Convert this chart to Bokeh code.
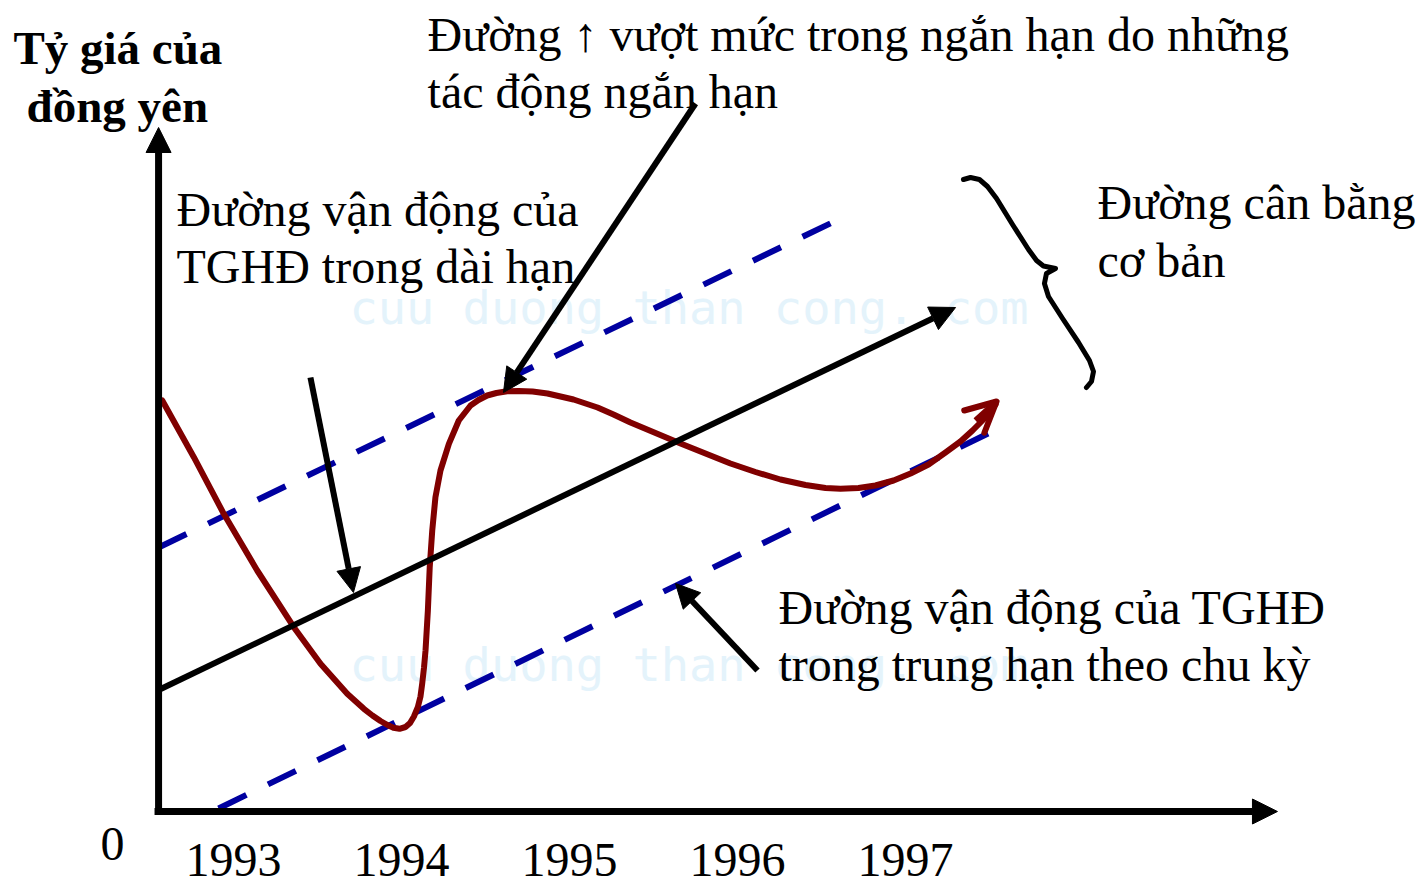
from bokeh.plotting import figure
from bokeh.models import Range1d, Arrow, NormalHead, OpenHead
from bokeh.core.properties import value
from bokeh.embed import file_html
from bokeh.resources import INLINE

# ---------------- data (x in years, y in relative exchange-rate units) -------------
years = [1993, 1994, 1995, 1996, 1997]
year_labels = ["1993", "1994", "1995", "1996", "1997"]

# long-run trend (fundamental equilibrium)
trend_x = [1992.548, 1997.298]
trend_y = [1.18, 5.01]

# band around trend (dashed)
upper_x = [1992.554, 1996.613]
upper_y = [2.61, 5.90]
lower_x = [1992.911, 1997.565]
lower_y = [0.00, 3.81]

# actual exchange-rate path
rate_x = [1992.576, 1992.764, 1992.942, 1993.141, 1993.359, 1993.518, 1993.677, 1993.776,
          1993.827, 1993.875, 1993.917, 1993.952, 1993.988, 1994.024, 1994.051, 1994.074,
          1994.097, 1994.113, 1994.123, 1994.134, 1994.143, 1994.157, 1994.168, 1994.183,
          1994.202, 1994.232, 1994.282, 1994.341, 1994.411, 1994.458, 1994.510, 1994.565,
          1994.629, 1994.696, 1994.780, 1994.869, 1995.024, 1995.167, 1995.262, 1995.363,
          1995.661, 1995.958, 1996.107, 1996.256, 1996.405, 1996.524, 1996.613, 1996.720,
          1996.821, 1996.929, 1997.030, 1997.137, 1997.238, 1997.327, 1997.399, 1997.476,
          1997.536]
rate_y = [4.08, 3.513, 2.947, 2.38, 1.813, 1.447, 1.147, 0.997,
          0.93, 0.875, 0.835, 0.807, 0.797, 0.815, 0.855, 0.92,
          1.013, 1.12, 1.247, 1.41, 1.58, 1.98, 2.413, 2.78,
          3.113, 3.38, 3.647, 3.88, 4.03, 4.085, 4.13, 4.155,
          4.173, 4.175, 4.17, 4.15, 4.09, 4.01, 3.94, 3.86,
          3.65, 3.45, 3.365, 3.29, 3.235, 3.205, 3.197, 3.205,
          3.23, 3.28, 3.35, 3.44, 3.56, 3.67, 3.78, 3.91,
          4.04]
rate_head = [1997.417, 3.88, 1997.542, 4.07]

# curly brace
brace_x = [1997.345, 1997.387, 1997.440, 1997.488, 1997.542, 1997.637, 1997.732, 1997.780,
           1997.821, 1997.893, 1997.839, 1997.827, 1997.851, 1997.935, 1998.030, 1998.095,
           1998.119, 1998.107, 1998.077]
brace_y = [6.29, 6.31, 6.29, 6.22, 6.10, 5.84, 5.59, 5.48,
           5.425, 5.40, 5.35, 5.25, 5.12, 4.90, 4.66, 4.48,
           4.37, 4.27, 4.21]

# annotation arrows: x_start, y_start, x_end, y_end
pointer_long = [1993.458, 4.31, 1993.714, 2.16]
pointer_short = [1995.750, 7.05, 1994.607, 4.16]
pointer_mid = [1996.119, 1.38, 1995.631, 2.25]

# axes
axis_origin = [1992.554, -0.03]
y_axis_top = 6.81
x_axis_right = 1999.214
x_axis_left = 1992.530

# texts
title_lines = ["Tỷ giá của", "đồng yên"]
title_x = [1991.690, 1991.768]
title_y = [7.61, 7.03]

label_text = ["Đường ↑ vượt mức trong ngắn hạn do những", "tác động ngắn hạn",
              "Đường vận động của", "TGHĐ trong dài hạn",
              "Đường cân bằng", "cơ bản",
              "Đường vận động của TGHĐ", "trong trung hạn theo chu kỳ"]
label_x = [1994.155, 1994.155, 1992.661, 1992.661, 1998.143, 1998.143, 1996.244, 1996.244]
label_y = [7.74, 7.17, 5.99, 5.42, 6.06, 5.48, 2.01, 1.44]

zero_x, zero_y = 1992.280, -0.355
year_label_y = -0.51

watermark = "cuu duong than cong. com"
wm_x = [1993.690, 1993.690]
wm_y = [5.01, 1.44]

# ---------------- figure ----------------
p = figure(width=1423, height=886,
           x_range=Range1d(1991.6131, 2000.0833), y_range=Range1d(-0.78, 8.08),
           x_axis_type=None, y_axis_type=None,
           output_backend="svg", toolbar_location=None, min_border=0)
p.grid.visible = False
p.outline_line_color = None
p.background_fill_color = "white"
p.border_fill_color = "white"

SERIF = value("Liberation Serif")

# watermark (behind)
p.text(x=wm_x, y=wm_y, text=[watermark, watermark], text_font=value("DejaVu Sans Mono"),
       text_font_size="47px", text_color="#e4f3fb", text_baseline="alphabetic", text_align="left")

# dashed band
p.line(upper_x, upper_y, line_color="#0000a0", line_width=6, line_dash="31 24")
p.line(lower_x, lower_y, line_color="#0000a0", line_width=6, line_dash="31 24")

# trend with arrow
p.add_layout(Arrow(end=NormalHead(size=25, fill_color="black", line_color="black"),
                   x_start=trend_x[0], y_start=trend_y[0], x_end=trend_x[1], y_end=trend_y[1],
                   line_color="black", line_width=6))

# actual path
p.line(rate_x, rate_y, line_color="#800000", line_width=6, line_join="round", line_cap="round")
p.add_layout(Arrow(end=OpenHead(size=30, line_color="#800000", line_width=6, line_cap="round", line_join="round"),
                   x_start=rate_head[0], y_start=rate_head[1], x_end=rate_head[2], y_end=rate_head[3],
                   line_color="#800000", line_width=6))

# brace
p.line(brace_x, brace_y, line_color="black", line_width=5, line_join="round", line_cap="round")

# pointer arrows
for a in (pointer_long, pointer_short, pointer_mid):
    p.add_layout(Arrow(end=NormalHead(size=24, fill_color="black", line_color="black"),
                       x_start=a[0], y_start=a[1], x_end=a[2], y_end=a[3],
                       line_color="black", line_width=6))

# axes
p.add_layout(Arrow(end=NormalHead(size=25, fill_color="black", line_color="black"),
                   x_start=axis_origin[0], y_start=axis_origin[1] - 0.03, x_end=axis_origin[0], y_end=y_axis_top,
                   line_color="black", line_width=7))
p.add_layout(Arrow(end=NormalHead(size=25, fill_color="black", line_color="black"),
                   x_start=x_axis_left, y_start=axis_origin[1], x_end=x_axis_right, y_end=axis_origin[1],
                   line_color="black", line_width=7))

# texts
p.text(x=title_x, y=title_y, text=title_lines, text_font=SERIF, text_font_style="bold",
       text_font_size="47px", text_color="black", text_baseline="alphabetic", text_align="left")
p.text(x=label_x, y=label_y, text=label_text, text_font=SERIF,
       text_font_size="48px", text_color="black", text_baseline="alphabetic", text_align="left")
p.text(x=[zero_x], y=[zero_y], text=["0"], text_font=SERIF,
       text_font_size="48px", text_color="black", text_baseline="alphabetic", text_align="center")
p.text(x=years, y=[year_label_y] * len(years), text=year_labels, text_font=SERIF,
       text_font_size="48px", text_color="black", text_baseline="alphabetic", text_align="center")

open("out.html", "w").write(file_html(p, INLINE))
